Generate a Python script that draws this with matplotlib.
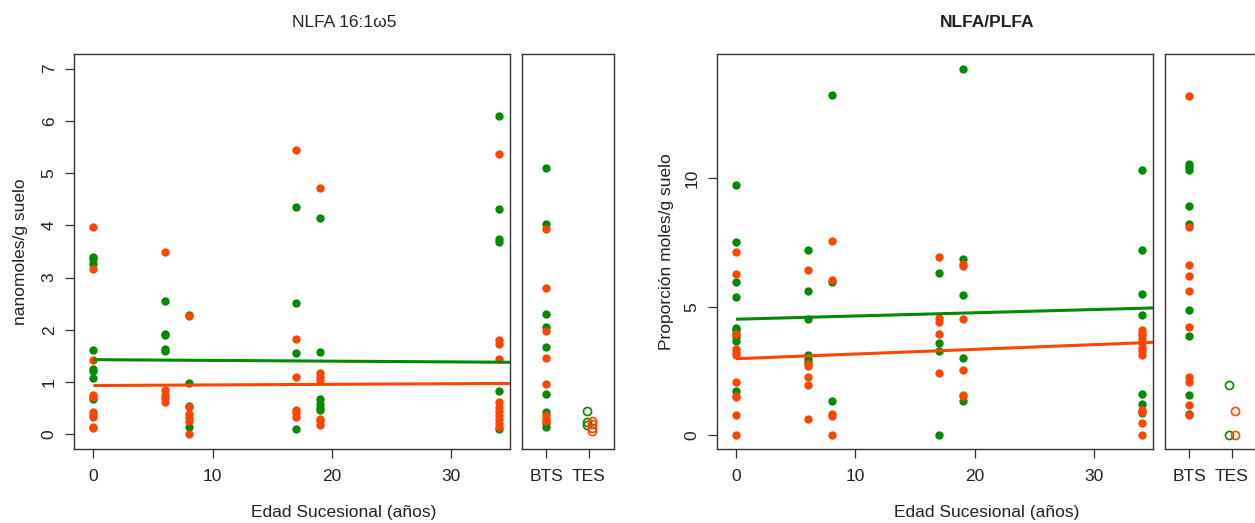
import numpy as np
from matplotlib import pyplot as plt

plt.rcParams['font.family'] = ['Liberation Sans', 'DejaVu Sans']

green = '#008B00'
orange = '#FF4500'
txt = '#222222'

ages = [0, 6, 8, 17, 19, 34]
sites = ['BTS', 'TES']

# NLFA 16:1w5 (nanomoles/g suelo), one list per age
nlfa_green = [
    [3.40, 3.35, 3.27, 1.61, 1.26, 1.22, 1.08, 0.67],
    [2.55, 1.93, 1.90, 1.63, 1.59],
    [2.29, 0.99, 0.55, 0.15],
    [4.36, 2.51, 1.55, 0.10],
    [4.15, 1.58, 0.67, 0.59, 0.50, 0.47],
    [6.10, 4.32, 3.73, 3.68, 0.83, 0.10],
]
nlfa_orange = [
    [3.96, 3.16, 1.43, 0.76, 0.71, 0.42, 0.37, 0.33, 0.15, 0.13],
    [3.50, 0.84, 0.76, 0.70, 0.62],
    [2.27, 0.53, 0.39, 0.32, 0.25, 0.0],
    [5.44, 1.82, 1.10, 0.46, 0.40, 0.34],
    [4.72, 1.17, 1.10, 1.05, 0.29, 0.25, 0.18],
    [5.36, 1.81, 1.73, 1.44, 0.62, 0.52, 0.45, 0.38, 0.30, 0.22, 0.15],
]
nlfa_bts_green = [5.09, 4.02, 2.30, 2.05, 1.68, 0.78, 0.42, 0.22, 0.15]
nlfa_bts_orange = [3.94, 2.81, 1.98, 1.46, 0.97, 0.38, 0.32, 0.25]
nlfa_tes_green = [0.44, 0.23, 0.18]
nlfa_tes_orange = [0.26, 0.20, 0.13, 0.06]
nlfa_fit_green = [1.43, 1.38]   # value at age 0 and at age 35
nlfa_fit_orange = [0.935, 0.975]

# NLFA/PLFA (proporcion moles/g suelo)
ratio_green = [
    [9.73, 7.52, 5.97, 5.37, 4.18, 4.08, 3.95, 3.82, 3.66, 1.71],
    [7.20, 5.61, 4.51, 3.13, 2.94, 2.85],
    [13.25, 5.96, 1.34],
    [6.31, 3.60, 3.28, 0.0],
    [14.27, 6.86, 5.44, 2.99, 1.31],
    [10.34, 7.21, 5.51, 4.69, 1.59, 1.22, 0.84],
]
ratio_orange = [
    [7.13, 6.28, 3.95, 3.36, 3.22, 3.10, 2.07, 1.52, 1.47, 0.76, 0.0],
    [6.42, 2.78, 2.70, 2.26, 1.93, 0.61],
    [7.56, 6.02, 0.80, 0.72, 0.0],
    [6.93, 4.56, 4.40, 3.94, 2.42],
    [6.67, 6.57, 4.50, 2.52, 1.57, 1.50],
    [4.10, 3.98, 3.88, 3.72, 3.60, 3.40, 3.26, 3.13, 0.99, 0.90, 0.47, 0.0],
]
ratio_bts_green = [10.58, 10.45, 10.32, 8.91, 8.24, 4.86, 3.85, 1.55, 0.83]
ratio_bts_orange = [13.23, 8.11, 6.64, 6.20, 5.61, 4.21, 2.26, 2.07, 1.16, 0.76]
ratio_tes_green = [1.96, 0.0]
ratio_tes_orange = [0.94, 0.0]
ratio_fit_green = [4.51, 4.95]
ratio_fit_orange = [2.97, 3.61]

fit_x = [0, 35]

W, H = 1255, 523
fig = plt.figure(figsize=(W / 100, H / 100), dpi=100)


def px(x0, y0, x1, y1):
    return [x0 / W, 1 - y1 / H, (x1 - x0) / W, (y1 - y0) / H]


def style(ax):
    for s in ax.spines.values():
        s.set_color('#333333')
        s.set_linewidth(1.0)
    ax.tick_params(colors='#333333', labelcolor=txt, labelsize=12.5,
                   length=6.5, width=0.9)
    ax.tick_params(axis='x', pad=8)
    ax.tick_params(axis='y', pad=6, labelrotation=90)
    for lab in ax.get_yticklabels():
        lab.set_va('center')


def panel(x_main, x_side, main_g, main_o, bts_g, bts_o, tes_g, tes_o,
          fit_g, fit_o, ylim, yticks, title, ylabel, bold, ylab_x):
    ax = fig.add_axes(px(x_main[0], 54, x_main[1], 449))
    for a, vals in zip(ages, main_g):
        ax.plot([a] * len(vals), vals, 'o', color=green, ms=6.0, mew=0)
    for a, vals in zip(ages, main_o):
        ax.plot([a] * len(vals), vals, 'o', color=orange, ms=6.0, mew=0)
    ax.plot(fit_x, fit_g, color=green, lw=2.2, solid_capstyle='butt')
    ax.plot(fit_x, fit_o, color=orange, lw=2.2, solid_capstyle='butt')
    ax.set_xlim(-1.62, 34.95)
    ax.set_ylim(*ylim)
    ax.set_xticks([0, 10, 20, 30])
    ax.set_yticks(yticks)
    style(ax)

    sx = fig.add_axes(px(x_side[0], 54, x_side[1], 449))
    sx.plot([1] * len(bts_g), bts_g, 'o', color=green, ms=6.0, mew=0)
    sx.plot([1] * len(bts_o), bts_o, 'o', color=orange, ms=6.0, mew=0)
    sx.plot([1.95] * len(tes_g), tes_g, 'o', mfc='none', mec=green, ms=5.8, mew=1.2)
    sx.plot([2.08] * len(tes_o), tes_o, 'o', mfc='none', mec=orange, ms=5.8, mew=1.2)
    sx.set_xlim(0.42, 2.6)
    sx.set_ylim(*ylim)
    sx.set_xticks([1, 2])
    sx.set_xticklabels(sites)
    sx.set_yticks([])
    style(sx)

    cx = (x_main[0] + x_side[1]) / 2
    fig.text(cx / W, 1 - 26.7 / H, title, ha='center', va='baseline',
             fontsize=12.5, color=txt, fontweight='bold' if bold else 'normal')
    fig.text(cx / W, 1 - 517 / H, 'Edad Sucesional (años)', ha='center',
             va='baseline', fontsize=12.5, color=txt)
    fig.text(ylab_x / W, 1 - 251.5 / H, ylabel, rotation=90, rotation_mode='anchor',
             ha='center', va='baseline', fontsize=12.5, color=txt)


panel((74, 510.3), (522, 614), nlfa_green, nlfa_orange,
      nlfa_bts_green, nlfa_bts_orange, nlfa_tes_green, nlfa_tes_orange,
      nlfa_fit_green, nlfa_fit_orange, (-0.28, 7.28), range(0, 8),
      'NLFA 16:1ω5', 'nanomoles/g suelo', False, 25.5)

panel((716.7, 1153.3), (1164.5, 1257), ratio_green, ratio_orange,
      ratio_bts_green, ratio_bts_orange, ratio_tes_green, ratio_tes_orange,
      ratio_fit_green, ratio_fit_orange, (-0.55, 14.85), [0, 5, 10],
      'NLFA/PLFA', 'Proporción moles/g suelo', True, 671)

plt.savefig('out.png', dpi=100)
